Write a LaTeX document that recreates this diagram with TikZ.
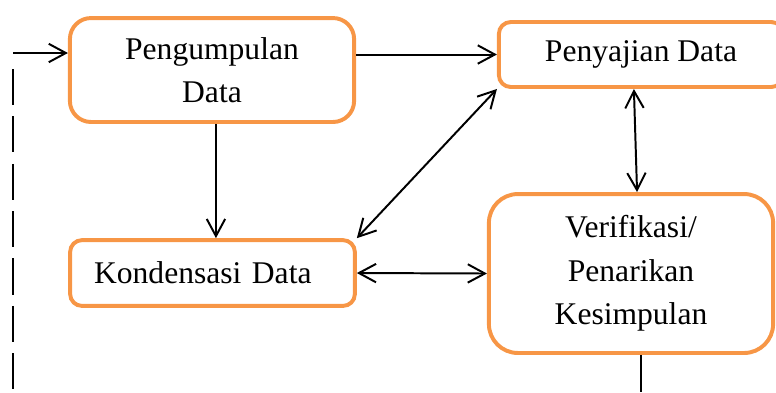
\documentclass[tikz,border=0pt]{standalone}
\usepackage{fontspec}
\setmainfont{Liberation Serif}
\usepackage{tikz}
\usetikzlibrary{arrows.meta,calc,positioning}
\definecolor{boxorange}{HTML}{F79646}
\tikzstyle{block} =[rectangle, draw=boxorange, line width=1.5pt, rounded corners=4.5pt,
text centered, align=center, minimum width=108pt, inner sep=0pt,
font=\fontsize{12pt}{16.5pt}\selectfont]
\tikzstyle{line} =[draw, line width=0.75pt, -{Straight Barb[length=6.5pt,width=7pt]}]
\tikzstyle{twoway} =[draw, line width=0.75pt, {Straight Barb[length=6.5pt,width=7pt]}-{Straight Barb[length=6.5pt,width=7pt]}]
\tikzstyle{plain} =[draw, line width=0.75pt]
\tikzstyle{return} =[draw, line width=0.75pt, dash pattern=on 13.7pt off 4.3pt]

\begin{document}
\begin{tikzpicture}[x=0.38pt, y=-0.38pt]
\useasboundingbox (0,0) rectangle (776,392);

\node [block, rounded corners=8pt, minimum height=39.5pt] (collect) at (212,70) {Pengumpulan\\Data};
\node [block, minimum height=24.7pt] (display) at (641,54.5) {Penyajian Data};
\node [block, minimum height=25pt, text width=90pt, inner xsep=9.1pt, align=left] (condense) at (212.5,273) {Kondensasi Data};
\node [block, rounded corners=11pt, minimum height=60.4pt] (verify) at (631,273.5) {Verifikasi/\\Penarikan\\Kesimpulan};

\coordinate (return top) at (13,69);
\coordinate (return corner) at (13,53);
\coordinate (return bottom) at (13,392);
\coordinate (exit) at (641,392);

\path [line] (collect.east |- display.west) -- (display.west);
\path [line] ([xshift=1.5pt]collect.south) -- ([xshift=1.5pt]collect.south |- condense.north);
\path [twoway] (condense.north east) -- (display.south west);
\path [twoway] (condense.east) -- (verify.west);
\path [twoway] ([xshift=-2.7pt]display.south) -- ([xshift=2.3pt]verify.north);
\path [plain] (verify.south -| exit) -- (exit);
\path [return] (return top) -- (return bottom);
\path [line] (return corner) -- (collect.west |- return corner);
\end{tikzpicture}
\end{document}
